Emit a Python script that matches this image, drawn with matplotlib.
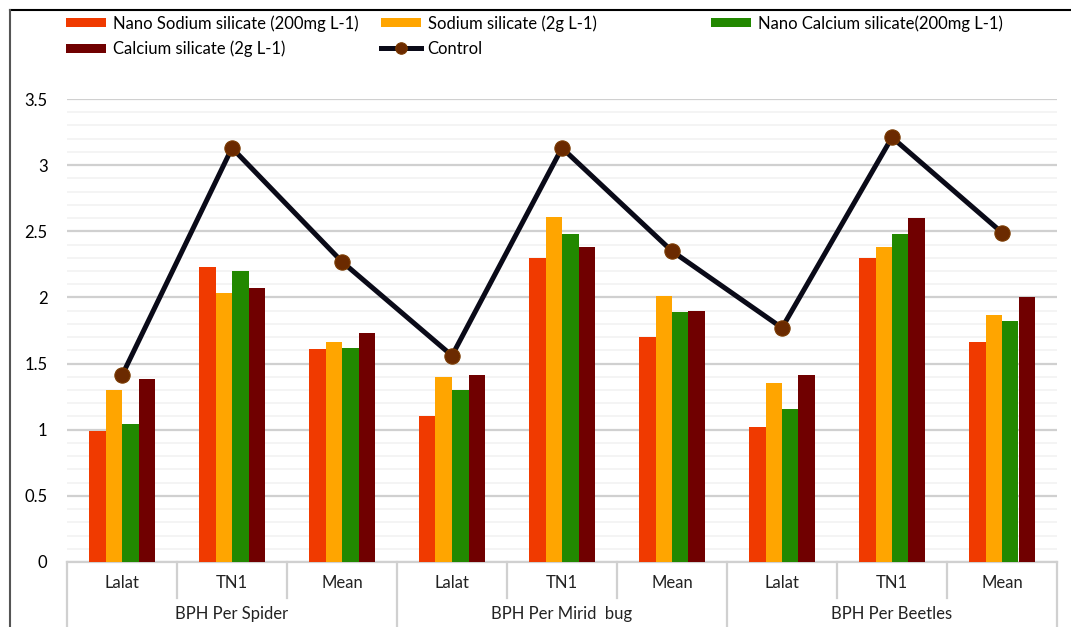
import numpy as np
import matplotlib.pyplot as plt
from matplotlib.lines import Line2D

# data
groups = ["BPH Per Spider", "BPH Per Mirid  bug", "BPH Per Beetles"]
varieties = ["Lalat", "TN1", "Mean"]

nano_sodium = [0.99, 2.23, 1.61, 1.10, 2.30, 1.70, 1.02, 2.30, 1.66]
sodium = [1.30, 2.03, 1.66, 1.40, 2.61, 2.01, 1.35, 2.38, 1.87]
nano_calcium = [1.04, 2.20, 1.62, 1.30, 2.48, 1.89, 1.16, 2.48, 1.82]
calcium = [1.38, 2.07, 1.73, 1.41, 2.38, 1.90, 1.41, 2.60, 2.00]
control = [1.41, 3.13, 2.27, 1.56, 3.13, 2.35, 1.77, 3.21, 2.49]

series_labels = ["Nano Sodium silicate (200mg L-1)", "Sodium silicate (2g L-1)",
                 "Nano Calcium silicate(200mg L-1)", "Calcium silicate (2g L-1)"]
colors = ["#F03A00", "#FFA500", "#228800", "#700000"]

plt.rcParams["font.family"] = ["Lato", "DejaVu Sans"]

W, H = 1071, 627
fig = plt.figure(figsize=(W / 100, H / 100), dpi=100)
ax = fig.add_axes([67 / W, 1 - 562 / H, (1057 - 67) / W, (562 - 99) / H])

n = len(nano_sodium)
x = np.arange(n)
bw = 0.15
bars = []
for i, (vals, c, lab) in enumerate(zip([nano_sodium, sodium, nano_calcium, calcium], colors, series_labels)):
    b = ax.bar(x + (i - 1.5) * bw, vals, bw, color=c, label=lab, zorder=3)
    bars.append(b)

line, = ax.plot(x, control, color="#0A0A18", lw=3.6, marker="o", ms=11,
                mfc="#6B2A00", mec="#7A3A00", mew=0.8, zorder=5, label="Control")

ax.set_xlim(-0.5, n - 0.5)
ax.set_ylim(0, 3.5)
ax.set_yticks(np.arange(0, 3.51, 0.5))
ax.set_yticklabels(["0", "0.5", "1", "1.5", "2", "2.5", "3", "3.5"])
ax.set_yticks(np.arange(0, 3.5, 0.1), minor=True)
ax.grid(axis="y", which="major", color="#D0D0D0", lw=1.6, zorder=0)
ax.grid(axis="y", which="minor", color="#F2F2F2", lw=1.2, zorder=0)
ax.tick_params(axis="y", which="both", length=0, labelsize=12, pad=14)
ax.tick_params(axis="x", length=0, labelbottom=False)
for s in ["top", "right", "left"]:
    ax.spines[s].set_visible(False)
ax.spines["bottom"].set_color("#D0D0D0")
ax.spines["bottom"].set_linewidth(1.6)

# two-level category axis
trans = ax.get_xaxis_transform()
for i in range(n):
    ax.text(x[i], -0.045, varieties[i % 3], transform=trans, ha="center", va="center",
            fontsize=12, color="#222222")
for g, name in enumerate(groups):
    ax.text(3 * g + 1, -0.113, name, transform=trans, ha="center", va="center",
            fontsize=12, color="#222222")
for k in range(n + 1):
    bottom = -0.14 if k % 3 == 0 else -0.077
    ax.add_line(Line2D([k - 0.5, k - 0.5], [0, bottom], transform=trans, color="#D0D0D0",
                       lw=1.6, clip_on=False))

# legend in three columns placed like the original
h = [b for b in bars] + [line]
leg_kw = dict(frameon=False, fontsize=12, handlelength=2.4, handleheight=0.5,
              handletextpad=0.4, labelspacing=0.55, borderpad=0, borderaxespad=0,
              markerscale=0.75, loc="upper left")
top = 1 - 15 / H
fig.legend([h[0], h[3]], [series_labels[0], series_labels[3]],
           bbox_to_anchor=(66 / W, top), **leg_kw)
fig.legend([h[1], line], [series_labels[1], "Control"],
           bbox_to_anchor=(381 / W, top), **leg_kw)
fig.legend([h[2]], [series_labels[2]],
           bbox_to_anchor=(711 / W, top), **leg_kw)

# outer frame lines (top and left)
fig.add_artist(Line2D([10 / W, 1], [1 - 10 / H, 1 - 10 / H], color="black", lw=1.5))
fig.add_artist(Line2D([10 / W, 10 / W], [0, 1 - 10 / H], color="#555555", lw=1.5))

fig.savefig("out.png", dpi=100)
